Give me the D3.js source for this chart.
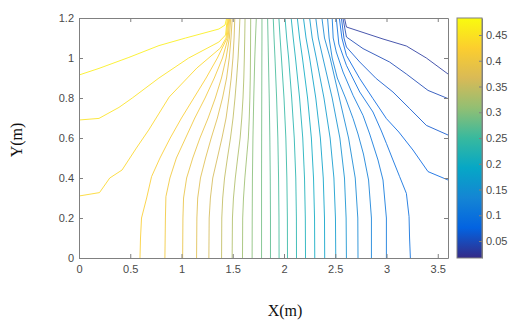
<!DOCTYPE html>
<html><head><meta charset="utf-8">
<script src="https://cdn.jsdelivr.net/npm/d3@7"></script>
<style>body{margin:0;background:#fff}svg{display:block}</style>
</head><body><svg id="c" width="508" height="320"></svg>
<script>
// contour level of each line (from high to low)
const contourLevels = [0.467,0.452,0.437,0.422,0.407,0.392,0.377,0.362,0.347,0.332,0.317,0.302,0.287,0.272,0.257,0.242,0.227,0.212,0.197,0.182,0.167,0.152,0.137,0.122,0.107,0.092,0.077,0.062,0.047,0.032];
// contour lines, points [x, y]
const contourPaths = [
 [[0,0.915],[0.195,0.948],[0.487,1.003],[0.78,1.062],[1.04,1.1],[1.365,1.145],[1.425,1.165],[1.44,1.2]],
 [[0,0.69],[0.195,0.698],[0.39,0.753],[0.52,0.8],[0.78,0.9],[1.07,1.0],[1.365,1.08],[1.43,1.115],[1.447,1.2]],
 [[0,0.31],[0.2,0.327],[0.3,0.4],[0.42,0.44],[0.56,0.55],[0.68,0.64],[0.88,0.805],[1.15,0.95],[1.38,1.05],[1.435,1.1],[1.455,1.2]],
 [[0.595,0],[0.6,0.1],[0.61,0.2],[0.66,0.3],[0.708,0.407],[0.79,0.5],[0.89,0.6],[1.0,0.7],[1.12,0.8],[1.24,0.9],[1.35,1.0],[1.445,1.1],[1.462,1.2]],
 [[0.838,0],[0.843,0.2],[0.848,0.307],[0.887,0.4],[0.95,0.5],[1.04,0.6],[1.13,0.7],[1.23,0.8],[1.32,0.9],[1.4,1.0],[1.455,1.1],[1.47,1.2]],
 [[1.011,0],[1.014,0.2],[1.02,0.3],[1.05,0.4],[1.11,0.5],[1.18,0.6],[1.26,0.7],[1.33,0.8],[1.39,0.9],[1.435,1.0],[1.467,1.1],[1.48,1.2]],
 [[1.147,0],[1.15,0.2],[1.158,0.3],[1.185,0.4],[1.235,0.5],[1.29,0.6],[1.35,0.7],[1.4,0.8],[1.44,0.9],[1.466,1.0],[1.483,1.1],[1.495,1.2]],
 [[1.267,0],[1.27,0.2],[1.282,0.3],[1.305,0.4],[1.35,0.5],[1.395,0.6],[1.435,0.7],[1.462,0.8],[1.485,0.9],[1.502,1.0],[1.513,1.1],[1.52,1.2]],
 [[1.391,0],[1.393,0.2],[1.402,0.3],[1.42,0.4],[1.448,0.5],[1.478,0.6],[1.503,0.7],[1.522,0.8],[1.538,0.9],[1.552,1.0],[1.562,1.1],[1.57,1.2]],
 [[1.494,0],[1.497,0.2],[1.507,0.3],[1.525,0.4],[1.548,0.5],[1.572,0.6],[1.588,0.7],[1.6,0.8],[1.608,0.9],[1.613,1.0],[1.617,1.1],[1.62,1.2]],
 [[1.595,0],[1.597,0.2],[1.605,0.3],[1.618,0.4],[1.635,0.5],[1.652,0.6],[1.661,0.7],[1.667,0.8],[1.671,0.9],[1.673,1.0],[1.674,1.1],[1.675,1.2]],
 [[1.689,0],[1.69,0.2],[1.692,0.4],[1.697,0.6],[1.705,0.8],[1.715,1.0],[1.722,1.1],[1.73,1.2]],
 [[1.781,0],[1.781,0.2],[1.781,0.4],[1.782,0.6],[1.783,0.8],[1.784,1.0],[1.785,1.1],[1.785,1.2]],
 [[1.868,0],[1.868,0.2],[1.866,0.4],[1.862,0.6],[1.856,0.8],[1.848,1.0],[1.844,1.1],[1.84,1.2]],
 [[1.952,0],[1.951,0.2],[1.947,0.4],[1.94,0.6],[1.928,0.8],[1.912,1.0],[1.903,1.1],[1.895,1.2]],
 [[2.034,0],[2.033,0.2],[2.028,0.4],[2.018,0.6],[2.0,0.8],[1.975,1.0],[1.962,1.1],[1.95,1.2]],
 [[2.122,0],[2.121,0.2],[2.115,0.4],[2.1,0.6],[2.075,0.8],[2.045,1.0],[2.026,1.1],[2.01,1.2]],
 [[2.21,0],[2.208,0.2],[2.2,0.4],[2.183,0.6],[2.152,0.8],[2.112,1.0],[2.09,1.1],[2.07,1.2]],
 [[2.3,0],[2.298,0.2],[2.288,0.4],[2.267,0.6],[2.23,0.8],[2.18,1.0],[2.152,1.1],[2.13,1.2]],
 [[2.397,0],[2.395,0.2],[2.383,0.4],[2.355,0.6],[2.31,0.8],[2.25,1.0],[2.215,1.1],[2.19,1.2]],
 [[2.505,0],[2.502,0.2],[2.487,0.4],[2.45,0.6],[2.39,0.8],[2.315,1.0],[2.275,1.1],[2.25,1.2]],
 [[2.609,0],[2.606,0.2],[2.59,0.4],[2.545,0.6],[2.47,0.8],[2.38,1.0],[2.335,1.1],[2.31,1.2]],
 [[2.722,0],[2.72,0.2],[2.695,0.4],[2.63,0.6],[2.54,0.8],[2.45,1.0],[2.395,1.1],[2.37,1.2]],
 [[2.853,0],[2.853,0.2],[2.825,0.39],[2.775,0.52],[2.722,0.62],[2.674,0.697],[2.6,0.8],[2.52,0.9],[2.47,1.0],[2.44,1.1],[2.425,1.2]],
 [[2.999,0],[2.999,0.2],[2.966,0.39],[2.917,0.49],[2.836,0.62],[2.771,0.713],[2.674,0.813],[2.576,0.93],[2.51,1.03],[2.48,1.1],[2.47,1.2]],
 [[3.233,0],[3.225,0.1],[3.22,0.207],[3.194,0.323],[3.128,0.407],[3.063,0.49],[2.999,0.573],[2.95,0.635],[2.868,0.73],[2.739,0.83],[2.609,0.963],[2.535,1.07],[2.51,1.2]],
 [[2.54,1.2],[2.565,1.1],[2.609,1.013],[2.739,0.897],[2.868,0.797],[2.999,0.697],[3.12,0.63],[3.258,0.54],[3.405,0.432],[3.6,0.39]],
 [[2.56,1.2],[2.585,1.1],[2.609,1.055],[2.739,0.98],[2.9,0.897],[3.063,0.83],[3.226,0.747],[3.389,0.663],[3.6,0.615]],
 [[2.575,1.2],[2.609,1.105],[2.771,1.047],[3.03,0.98],[3.194,0.92],[3.405,0.838],[3.6,0.797]],
 [[2.59,1.2],[2.609,1.155],[2.966,1.095],[3.194,1.06],[3.389,1.0],[3.6,0.92]]
];
const xTicks = [0,0.5,1,1.5,2,2.5,3,3.5];
const yTicks = [0,0.2,0.4,0.6,0.8,1,1.2];
const cbTicks = [0.05,0.1,0.15,0.2,0.25,0.3,0.35,0.4,0.45];
const cbRange = [0.017,0.483];
const parula = ["#352a87","#0363e1","#1485d4","#06a7c6","#38b99e","#92bf73","#d9ba56","#fcce2e","#f9fb0e"];

const svg = d3.select("#c");
const W = {l:79, r:448, t:18, b:258};
const x = d3.scaleLinear().domain([0,3.6]).range([W.l,W.r]);
const y = d3.scaleLinear().domain([0,1.2]).range([W.b,W.t]);
const cScale = d3.scaleLinear()
  .domain(parula.map((_,i)=>cbRange[0]+i*(cbRange[1]-cbRange[0])/(parula.length-1)))
  .range(parula).interpolate(d3.interpolateRgb);

const defs = svg.append("defs");
defs.append("clipPath").attr("id","clip").append("rect")
  .attr("x",W.l).attr("y",W.t).attr("width",W.r-W.l).attr("height",W.b-W.t);

const line = d3.line().x(d=>x(d[0])).y(d=>y(d[1]));
svg.append("g").attr("clip-path","url(#clip)")
  .selectAll("path").data(contourPaths).join("path")
  .attr("d",line).attr("fill","none")
  .attr("stroke",(d,i)=>cScale(contourLevels[i]))
  .attr("stroke-width",0.85);

const axisColor = "#808080", textColor = "#4a4a4a";
function styleAxis(g){
  g.select(".domain").attr("stroke",axisColor);
  g.selectAll(".tick line").attr("stroke",axisColor);
  g.selectAll(".tick text").attr("fill",textColor)
   .style("font-family","'Liberation Sans',Arial,sans-serif").style("font-size","11px");
}
svg.append("g").attr("transform",`translate(0,${W.b})`)
  .call(d3.axisBottom(x).tickValues(xTicks).tickSizeInner(-4).tickSizeOuter(0).tickPadding(7).tickFormat(d3.format("~g")))
  .call(styleAxis);
svg.append("g").attr("transform",`translate(0,${W.t})`)
  .call(d3.axisTop(x).tickValues(xTicks).tickSizeInner(-4).tickSizeOuter(0).tickFormat(""))
  .call(styleAxis);
svg.append("g").attr("transform",`translate(${W.l},0)`)
  .call(d3.axisLeft(y).tickValues(yTicks).tickSizeInner(-4).tickSizeOuter(0).tickPadding(5).tickFormat(d3.format("~g")))
  .call(styleAxis);
svg.append("g").attr("transform",`translate(${W.r},0)`)
  .call(d3.axisRight(y).tickValues(yTicks).tickSizeInner(-4).tickSizeOuter(0).tickFormat(""))
  .call(styleAxis);

// colorbar
const cb = {l:457, r:482};
const cy = d3.scaleLinear().domain(cbRange).range([W.b,W.t]);
const grad = defs.append("linearGradient").attr("id","parula")
  .attr("x1",0).attr("y1",1).attr("x2",0).attr("y2",0);
grad.selectAll("stop").data(parula).join("stop")
  .attr("offset",(d,i)=>i/(parula.length-1)).attr("stop-color",d=>d);
svg.append("rect").attr("x",cb.l).attr("y",W.t).attr("width",cb.r-cb.l).attr("height",W.b-W.t)
  .attr("fill","url(#parula)");
svg.append("g").attr("transform",`translate(${cb.r},0)`)
  .call(d3.axisRight(cy).tickValues(cbTicks).tickSizeInner(-3).tickSizeOuter(0).tickPadding(4).tickFormat(d3.format("~g")))
  .call(styleAxis);
svg.append("rect").attr("x",cb.l).attr("y",W.t).attr("width",cb.r-cb.l).attr("height",W.b-W.t)
  .attr("fill","none").attr("stroke",axisColor);

svg.append("text").attr("x",285).attr("y",316).attr("text-anchor","middle")
  .attr("fill","#111").style("font-family","'Liberation Serif','Times New Roman',serif").style("font-size","16px")
  .text("X(m)");
svg.append("text").attr("transform","translate(22,140) rotate(-90)").attr("text-anchor","middle")
  .attr("fill","#111").style("font-family","'Liberation Serif','Times New Roman',serif").style("font-size","16px")
  .text("Y(m)");
</script></body></html>
